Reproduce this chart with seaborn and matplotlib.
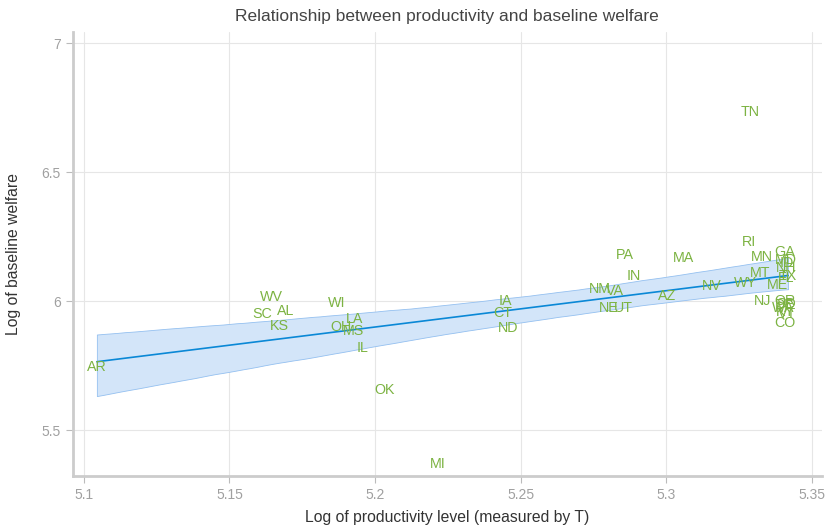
import matplotlib
matplotlib.use("Agg")
import matplotlib.pyplot as plt
import numpy as np
import pandas as pd
import seaborn as sns
from matplotlib.ticker import FuncFormatter

# state labels, log productivity (x) and log baseline welfare (y)
states = [
    "AR", "WV", "SC", "AL", "KS", "WI", "OH", "LA", "MS", "IL",
    "OK", "MI", "IA", "CT", "ND", "NM", "VA", "NE", "UT", "PA",
    "IN", "MA", "AZ", "NV", "WY", "TN", "RI", "MN", "GA", "MD",
    "ID", "NH", "MT", "TX", "FL", "ME", "NJ", "OR", "SD", "DE",
    "WA", "KY", "VT", "CO",
]
log_productivity = [
    5.1045, 5.1646, 5.1611, 5.1694, 5.1673, 5.1869, 5.1883, 5.1931, 5.1927, 5.1958,
    5.2034, 5.2216, 5.2449, 5.2439, 5.2456, 5.2772, 5.2823, 5.2803, 5.2851, 5.2858,
    5.2889, 5.3060, 5.3002, 5.3157, 5.3270, 5.3287, 5.3284, 5.3328, 5.3407, 5.3410,
    5.3415, 5.3412, 5.3321, 5.3418, 5.3410, 5.3380, 5.3332, 5.3408, 5.3412, 5.3405,
    5.3400, 5.3410, 5.3415, 5.3407,
]
log_welfare = [
    5.744, 6.015, 5.950, 5.961, 5.903, 5.992, 5.899, 5.930, 5.884, 5.818,
    5.655, 5.368, 6.000, 5.953, 5.895, 6.047, 6.039, 5.973, 5.973, 6.178,
    6.097, 6.167, 6.019, 6.058, 6.070, 6.733, 6.229, 6.171, 6.190, 6.160,
    6.150, 6.130, 6.109, 6.100, 6.090, 6.062, 6.000, 6.000, 5.990, 5.985,
    5.975, 5.960, 5.950, 5.915,
]

df = pd.DataFrame({"state": states, "x": log_productivity, "y": log_welfare})

sns.set_style("whitegrid")
plt.rcParams["font.family"] = ["Liberation Sans", "DejaVu Sans"]

fig = plt.figure(figsize=(8.26, 5.28), dpi=100)
ax = fig.add_axes([0.088, 0.098, 0.907, 0.841])

sns.regplot(
    data=df, x="x", y="y", ax=ax, scatter=False, seed=1, n_boot=2000,
    line_kws={"color": "#0a88d6", "linewidth": 1.2},
)
for coll in ax.collections:
    coll.set_facecolor("#d3e5f9")
    coll.set_edgecolor("#94c0f0")
    coll.set_linewidth(0.6)
    coll.set_alpha(1)

for _, row in df.iterrows():
    ax.text(row["x"], row["y"], row["state"], color="#7cb342", fontsize=10.3,
            ha="center", va="center")

ax.set_xlim(5.0962, 5.3534)
ax.set_ylim(5.322, 7.043)
ax.set_xticks([5.1, 5.15, 5.2, 5.25, 5.3, 5.35])
ax.set_yticks([5.5, 6, 6.5, 7])
fmt = FuncFormatter(lambda v, _: f"{v:g}")
ax.xaxis.set_major_formatter(fmt)
ax.yaxis.set_major_formatter(fmt)
ax.grid(True, color="#e6e6e6", linewidth=0.8)
ax.tick_params(axis="both", colors="#bbbbbb", labelcolor="#a0a0a0",
               labelsize=10, length=5, width=0.8, direction="out",
               bottom=True, left=True)

for side in ["top", "right"]:
    ax.spines[side].set_visible(False)
for side in ["left", "bottom"]:
    ax.spines[side].set_color("#cccccc")
    ax.spines[side].set_linewidth(2)

ax.set_title("Relationship between productivity and baseline welfare",
             color="#444444", fontsize=12.5, pad=8)
ax.set_xlabel("Log of productivity level (measured by T)", color="#333333",
              fontsize=11.3, labelpad=6)
ax.set_ylabel("Log of baseline welfare", color="#333333", fontsize=11.3,
              labelpad=15)

fig.savefig("out.png", dpi=100)
